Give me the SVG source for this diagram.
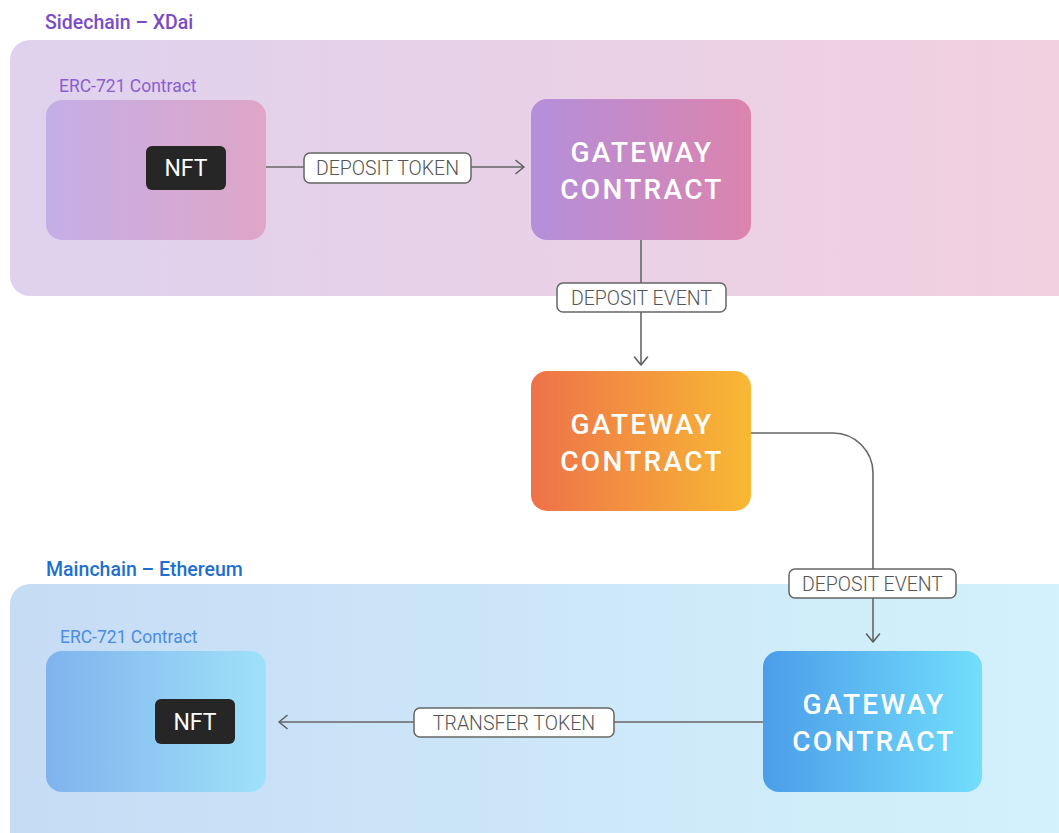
<svg xmlns="http://www.w3.org/2000/svg" width="1059" height="833" viewBox="0 0 1059 833">
<defs>
<linearGradient id="gSide" x1="0" y1="0" x2="1" y2="0">
<stop offset="0" stop-color="#dfd2ee"/><stop offset="1" stop-color="#f2d0df"/>
</linearGradient>
<linearGradient id="gMain" x1="0" y1="0" x2="1" y2="0">
<stop offset="0" stop-color="#c6dcf5"/><stop offset="1" stop-color="#d3f2fc"/>
</linearGradient>
<linearGradient id="gErc1" x1="0" y1="0" x2="1" y2="0">
<stop offset="0" stop-color="#c4aee6"/><stop offset="1" stop-color="#dfa6c7"/>
</linearGradient>
<linearGradient id="gErc2" x1="0" y1="0" x2="1" y2="0">
<stop offset="0" stop-color="#7fb3ed"/><stop offset="1" stop-color="#9fe1f9"/>
</linearGradient>
<linearGradient id="gGw1" x1="0" y1="0" x2="1" y2="0">
<stop offset="0" stop-color="#b48fdb"/><stop offset="1" stop-color="#dc84ad"/>
</linearGradient>
<linearGradient id="gGw2" x1="0" y1="0" x2="1" y2="0">
<stop offset="0" stop-color="#ee7249"/><stop offset="1" stop-color="#f8b934"/>
</linearGradient>
<linearGradient id="gGw3" x1="0" y1="0" x2="1" y2="0">
<stop offset="0" stop-color="#4b9de9"/><stop offset="1" stop-color="#72defc"/>
</linearGradient>
<marker id="arr" viewBox="0 0 12 16" refX="11" refY="8" markerWidth="12" markerHeight="16" markerUnits="userSpaceOnUse" orient="auto">
<path d="M3 1.5 L11 8 L3 14.5" fill="none" stroke="#5f5f5f" stroke-width="1.6" stroke-linecap="round" stroke-linejoin="round"/>
</marker>
<style>
.lane{font-family:Roboto,"Liberation Sans",sans-serif;font-size:19.5px;font-weight:500}
.erc{font-family:Roboto,"Liberation Sans",sans-serif;font-size:17.5px}
.nft{fill:#262626}
.nftt{font-family:Roboto,"Liberation Sans",sans-serif;font-size:23px;fill:#ffffff;text-anchor:middle}
.gw{font-family:Roboto,"Liberation Sans",sans-serif;font-size:28px;font-weight:500;fill:#ffffff;text-anchor:middle;letter-spacing:2.3px}
.conn{fill:none;stroke:#666666;stroke-width:1.6}
.lbl{fill:#ffffff;stroke:#666666;stroke-width:1.5}
.lblt{font-family:Roboto,"Liberation Sans",sans-serif;font-size:19.5px;font-weight:300;fill:#555555;text-anchor:middle}
</style>
</defs>
<rect width="1059" height="833" fill="#ffffff"/>

<g id="sidechain">
<rect x="10" y="40" width="1070" height="256" rx="20" fill="url(#gSide)"/>
<text class="lane" x="45" y="29" fill="#7a4cc6">Sidechain – XDai</text>
</g>
<g id="mainchain">
<rect x="10" y="584" width="1070" height="270" rx="20" fill="url(#gMain)"/>
<text class="lane" x="46" y="576" fill="#1f6fd0">Mainchain – Ethereum</text>
</g>

<g id="erc721-side">
<text class="erc" x="59" y="92" fill="#8b5ecf">ERC-721 Contract</text>
<rect x="46" y="100" width="220" height="140" rx="16" fill="url(#gErc1)"/>
<rect class="nft" x="146" y="146" width="80" height="44" rx="6"/>
<text class="nftt" x="186" y="176">NFT</text>
</g>

<g id="gateway-side">
<rect x="531" y="99" width="220" height="141" rx="16" fill="url(#gGw1)"/>
<text class="gw" x="642" y="162">GATEWAY</text>
<text class="gw" x="642" y="199">CONTRACT</text>
</g>

<g id="gateway-bridge">
<rect x="531" y="371" width="220" height="140" rx="16" fill="url(#gGw2)"/>
<text class="gw" x="642" y="434">GATEWAY</text>
<text class="gw" x="642" y="471">CONTRACT</text>
</g>

<g id="erc721-main">
<text class="erc" x="60" y="643" fill="#4a8de0">ERC-721 Contract</text>
<rect x="46" y="651" width="220" height="141" rx="16" fill="url(#gErc2)"/>
<rect class="nft" x="155" y="699" width="80" height="45" rx="6"/>
<text class="nftt" x="195" y="730">NFT</text>
</g>

<g id="gateway-main">
<rect x="763" y="651" width="219" height="141" rx="16" fill="url(#gGw3)"/>
<text class="gw" x="874" y="714">GATEWAY</text>
<text class="gw" x="874" y="751">CONTRACT</text>
</g>

<g id="connectors">
<path class="conn" d="M266 167 H524" marker-end="url(#arr)"/>
<path class="conn" d="M641 240 V365" marker-end="url(#arr)"/>
<path class="conn" d="M751 433 H833 A40 40 0 0 1 873 473 V642" marker-end="url(#arr)"/>
<path class="conn" d="M763 722 H279" marker-end="url(#arr)"/>

<rect class="lbl" x="304" y="153" width="167" height="30" rx="6"/>
<text class="lblt" x="387.5" y="175">DEPOSIT TOKEN</text>

<rect class="lbl" x="557" y="283" width="169" height="29" rx="6"/>
<text class="lblt" x="641.5" y="304.5">DEPOSIT EVENT</text>

<rect class="lbl" x="789" y="569" width="167" height="29" rx="6"/>
<text class="lblt" x="872.5" y="590.5">DEPOSIT EVENT</text>

<rect class="lbl" x="414" y="708" width="200" height="29" rx="6"/>
<text class="lblt" x="514" y="729.5">TRANSFER TOKEN</text>
</g>
</svg>
